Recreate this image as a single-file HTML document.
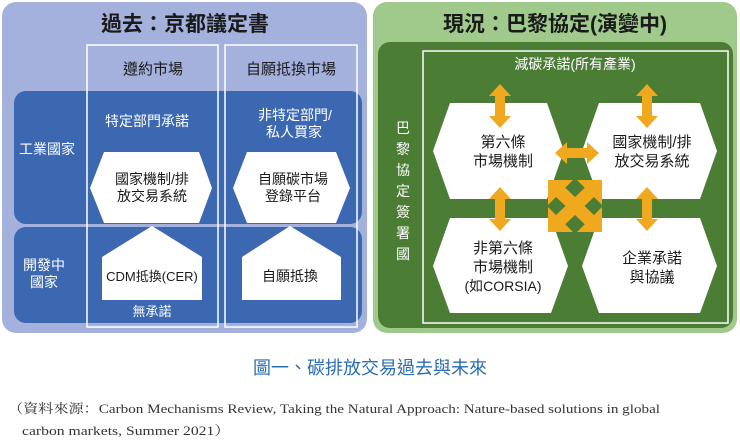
<!DOCTYPE html>
<html><head><meta charset="utf-8"><style>
body{margin:0;background:#fff;width:740px;height:438px;overflow:hidden}
text{font-family:"Liberation Sans","Noto Sans CJK TC",sans-serif}
text.serif{font-family:"Liberation Serif","Noto Serif CJK SC",serif}
</style></head><body>
<svg width="740" height="438" viewBox="0 0 740 438" xmlns="http://www.w3.org/2000/svg">
<defs>
<g id="va"><path d="M0,-22 L11,-10 L5,-10 L5,10 L11,10 L0,22 L-11,10 L-5,10 L-5,-10 L-11,-10 Z" fill="#f0a81e"/></g>
<g id="ha"><path d="M-22,0 L-10,-11 L-10,-5 L10,-5 L10,-11 L22,0 L10,11 L10,5 L-10,5 L-10,11 Z" fill="#f0a81e"/></g>
</defs>
<!-- LEFT PANEL -->
<rect x="2" y="2" width="365" height="331" rx="14" fill="#a4b1dd"/>
<text x="185" y="31" font-size="21" font-weight="bold" text-anchor="middle" fill="#1a1a1a">過去：京都議定書</text>
<rect x="14" y="91" width="348" height="133" rx="12" fill="#3c67b1"/>
<rect x="14" y="227" width="348" height="96" rx="12" fill="#3c67b1"/>
<rect x="87" y="45" width="131" height="282" fill="none" stroke="#fff" stroke-width="1.5"/>
<rect x="225" y="45" width="132" height="282" fill="none" stroke="#fff" stroke-width="1.5"/>
<text x="153" y="74" font-size="15" text-anchor="middle" fill="#1a1a1a">遵約市場</text>
<text x="291" y="74" font-size="15" text-anchor="middle" fill="#1a1a1a">自願抵換市場</text>
<text x="47" y="154" font-size="14" text-anchor="middle" fill="#fff">工業國家</text>
<text x="44" y="270" font-size="14" text-anchor="middle" fill="#fff">開發中</text>
<text x="44" y="287" font-size="14" text-anchor="middle" fill="#fff">國家</text>
<text x="147" y="126" font-size="14" text-anchor="middle" fill="#fff">特定部門承諾</text>
<text x="295" y="120" font-size="14" text-anchor="middle" fill="#fff">非特定部門/</text>
<text x="294" y="137" font-size="14" text-anchor="middle" fill="#fff">私人買家</text>
<polygon points="90,188 104,152 199,152 212,188 199,223 104,223" fill="#fff"/>
<polygon points="233,188 247,152 336,152 350,188 336,223 247,223" fill="#fff"/>
<text x="152" y="184" font-size="14" text-anchor="middle" fill="#1a1a1a">國家機制/排</text>
<text x="152" y="201" font-size="14" text-anchor="middle" fill="#1a1a1a">放交易系統</text>
<text x="293" y="184" font-size="14" text-anchor="middle" fill="#1a1a1a">自願碳市場</text>
<text x="293" y="201" font-size="14" text-anchor="middle" fill="#1a1a1a">登錄平台</text>
<polygon points="152,226 202,257 202,300 102,300 102,257" fill="#fff"/>
<polygon points="290,226 341,257 341,300 242,300 242,257" fill="#fff"/>
<text x="152" y="281" font-size="13" text-anchor="middle" fill="#1a1a1a">CDM抵換(CER)</text>
<text x="290" y="281" font-size="14" text-anchor="middle" fill="#1a1a1a">自願抵換</text>
<text x="152" y="316" font-size="13" text-anchor="middle" fill="#fff">無承諾</text>
<!-- RIGHT PANEL -->
<rect x="373" y="2" width="364" height="331" rx="14" fill="#9fca8c"/>
<text x="555" y="31" font-size="21" font-weight="bold" text-anchor="middle" fill="#1a1a1a">現況：巴黎協定(演變中)</text>
<rect x="378" y="42" width="355" height="286" rx="12" fill="#4b7d35"/>
<rect x="423" y="51" width="305" height="272" fill="none" stroke="#fff" stroke-width="1.5"/>
<text x="575" y="69" font-size="14" text-anchor="middle" fill="#fff">減碳承諾(所有產業)</text>
<g font-size="14" fill="#fff" text-anchor="middle">
<text x="403" y="133">巴</text><text x="403" y="154">黎</text><text x="403" y="175">協</text>
<text x="403" y="196">定</text><text x="403" y="217">簽</text><text x="403" y="238">署</text><text x="403" y="259">國</text>
</g>
<polygon points="433,151 450,103 547,103 564,151 547,199 450,199" fill="#fff"/>
<polygon points="582,151 599,103 700,103 717,151 700,199 599,199" fill="#fff"/>
<polygon points="433,266 450,218 551,218 568,266 551,313 450,313" fill="#fff"/>
<polygon points="582,266 599,218 700,218 717,266 700,313 599,313" fill="#fff"/>
<g font-size="15" fill="#1a1a1a" text-anchor="middle">
<text x="503" y="147">第六條</text><text x="503" y="166">市場機制</text>
<text x="652" y="147">國家機制/排</text><text x="652" y="166">放交易系統</text>
<text x="503" y="253">非第六條</text><text x="503" y="272">市場機制</text>
<text x="503" y="291" font-size="14">(如CORSIA)</text>
<text x="652" y="263">企業承諾</text><text x="652" y="282">與協議</text>
</g>
<use href="#va" x="500" y="106"/>
<use href="#va" x="647" y="106"/>
<use href="#va" x="500" y="209"/>
<use href="#va" x="647" y="209"/>
<use href="#ha" x="577" y="153"/>
<!-- X cross arrows -->
<g fill="#f0a81e">
<line x1="556" y1="188" x2="594" y2="224" stroke="#f0a81e" stroke-width="13"/>
<line x1="594" y1="188" x2="556" y2="224" stroke="#f0a81e" stroke-width="13"/>
<polygon points="548,180 573,180 548,205"/>
<polygon points="602,180 577,180 602,205"/>
<polygon points="548,232 573,232 548,207"/>
<polygon points="602,232 577,232 602,207"/>
</g>
<!-- CAPTION -->
<text x="370" y="374" font-size="18" text-anchor="middle" fill="#2a6db3">圖一、碳排放交易過去與未來</text>
<text class="serif" x="8" y="413" font-size="13" fill="#333" textLength="652" lengthAdjust="spacingAndGlyphs">（資料來源：Carbon Mechanisms Review, Taking the Natural Approach: Nature-based solutions in global</text>
<text class="serif" x="22" y="435" font-size="13" fill="#333" textLength="208" lengthAdjust="spacingAndGlyphs">carbon markets, Summer 2021）</text>
</svg>
</body></html>
